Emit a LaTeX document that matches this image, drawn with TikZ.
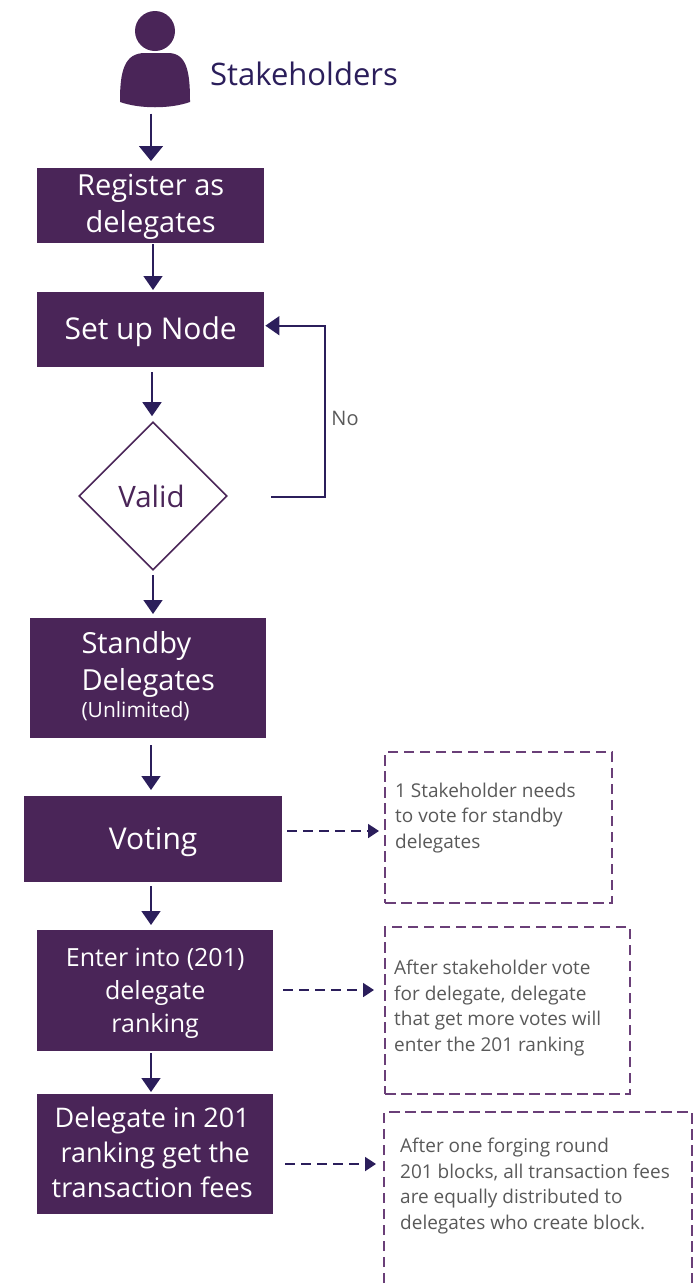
\documentclass[tikz,border=0pt]{standalone}
\usepackage{fontspec}
\setmainfont{Open Sans}
\usetikzlibrary{arrows.meta,shapes.geometric}
\definecolor{boxc}{HTML}{4A2558}
\definecolor{navy}{HTML}{2B1E5B}
\definecolor{grayt}{HTML}{595959}
\definecolor{dashc}{HTML}{6A3F78}
\tikzset{
 pbox/.style={fill=boxc,text=white,align=center,inner sep=0pt,anchor=north west},
 arr/.style={navy,line width=1.5pt,-{Triangle[length=15pt,width=24pt]}},
 arrb/.style={navy,line width=1.5pt,-{Triangle[length=14pt,width=19pt]}},
 darr/.style={navy,line width=1.8pt,dash pattern=on 10pt off 6pt,-{Triangle[length=11pt,width=14pt]}},
 dbox/.style={draw=dashc,line width=2pt,dash pattern=on 10.5pt off 5.5pt,anchor=north west,inner sep=0pt},
 note/.style={text=grayt,font=\fontsize{19}{25.5}\selectfont,align=left,anchor=north west,inner sep=0pt},
}
\newcommand{\bx}[7]{\node[pbox,minimum width=#4pt,minimum height=#5pt,font=#6] (#1) at (#2pt,-#3pt) {#7};}
\begin{document}
\begin{tikzpicture}[x=1pt,y=-1pt]
\useasboundingbox (0,0) rectangle (694,1286);
% person
\fill[boxc] (155,31) circle (20);
\fill[boxc] (120,100) .. controls (120,70) and (125,53) .. (145,53) -- (168,53) .. controls (186,53) and (190,70) .. (190,100) -- (190,102) .. controls (170,109) and (140,109) .. (120,102) -- cycle;
\node[inner sep=0pt,minimum size=1pt] (person) at (151,113) {};
\node[anchor=west,inner sep=0pt,text=navy,font=\fontsize{31}{34}\selectfont] (stk) at (210,74) {Stakeholders};
\bx{reg}{37}{168}{227}{75}{\fontsize{29}{37}\selectfont}{\rule{0pt}{24pt}Register as\\delegates}
\bx{setup}{37}{292}{227}{75}{\fontsize{30}{34}\selectfont}{\rule{0pt}{27pt}Set up Node}
\node[diamond,draw=boxc,line width=1.6pt,minimum width=148pt,minimum height=148pt,inner sep=0pt,text=boxc,font=\fontsize{29.5}{34}\selectfont] (valid) at (153,496) {Valid\hspace*{3pt}};
\node[pbox,minimum width=236pt,minimum height=120pt,align=left,font=\fontsize{29}{37}\selectfont] (standby) at (30,618) {Standby\\Delegates\\[-10pt]{\fontsize{21}{24}\selectfont (Unlimited)\rule[-8pt]{0pt}{1pt}}};
\bx{vote}{24}{796}{258}{86}{\fontsize{30}{34}\selectfont}{\rule{0pt}{27pt}Voting}
\bx{enter}{37}{930}{236}{121}{\fontsize{25}{33}\selectfont}{\rule{0pt}{23pt}Enter into (201)\\delegate\\ranking}
\bx{deleg}{37}{1094}{236}{120}{\fontsize{27}{35}\selectfont}{Delegate in 201\hspace*{6pt}\\ranking get the\hspace*{6pt}\\transaction fees\hspace*{6pt}\rule[-4pt]{0pt}{1pt}}
% dashed note frames
\node[dbox,minimum width=227pt,minimum height=151pt] (n1) at (384,751) {};
\node[dbox,minimum width=245pt,minimum height=167pt] (n2) at (384,926) {};
\coordinate (n3bl) at (384,1283);
\coordinate (n3tl) at (384,1112);
\coordinate (n3tr) at (692,1112);
\coordinate (n3br) at (692,1283);
\draw[draw=dashc,line width=2pt,dash pattern=on 10.5pt off 5.5pt] (n3bl) -- (n3tl) -- (n3tr) -- (n3br);
\node[note] (t1) at (395,782.5) {1 Stakeholder needs\\to vote for standby\\delegates};
\node[note] (t2) at (394,960) {After stakeholder vote\\for delegate, delegate\\that get more votes will\\enter the 201 ranking};
\node[note] (t3) at (400,1138) {After one forging round\\201 blocks, all transaction fees\\are equally distributed to\\delegates who create block.};
\node[text=grayt,inner sep=0pt,font=\fontsize{20}{22}\selectfont] (no) at (345,418) {No};
% connectors
\draw[arr] (person.south) -- ([yshift=7pt]person.south |- reg.north);
\draw[arrb] ([xshift=2pt,yshift=-1pt]person.south |- reg.south) -- ([xshift=2pt,yshift=2pt]person.south |- setup.north);
\draw[arrb] ([xshift=1pt,yshift=-5pt]person.south |- setup.south) -- ([xshift=1pt,yshift=5pt]person.south |- valid.north);
\draw[arrb] ([yshift=-4pt]valid.south) -- ([yshift=4pt]valid.south |- standby.north);
\draw[arrb] ([yshift=-7pt]person.south |- standby.south) -- ([yshift=6pt]person.south |- vote.north);
\draw[arrb] ([yshift=-4pt]person.south |- vote.south) -- ([yshift=5pt]person.south |- enter.north);
\draw[arrb] ([yshift=-2pt]person.south |- enter.south) -- ([yshift=2pt]person.south |- deleg.north);
\coordinate (vr) at (271,497);
\coordinate (bend) at (325,497);
\draw[arrb,line width=1.6pt] (vr) -- (bend) -- ([yshift=4pt]bend |- setup.east) -- ([xshift=1pt,yshift=4pt]setup.east);
\coordinate (d1s) at (287,831);
\coordinate (d2s) at (283,990);
\coordinate (d3s) at (285,1164);
\draw[darr] (d1s) -- ([xshift=-5pt]n1.west |- d1s);
\draw[darr] (d2s) -- ([xshift=-10pt]n2.west |- d2s);
\draw[darr] (d3s) -- ([xshift=-8pt]n3tl |- d3s);
\end{tikzpicture}
\end{document}
